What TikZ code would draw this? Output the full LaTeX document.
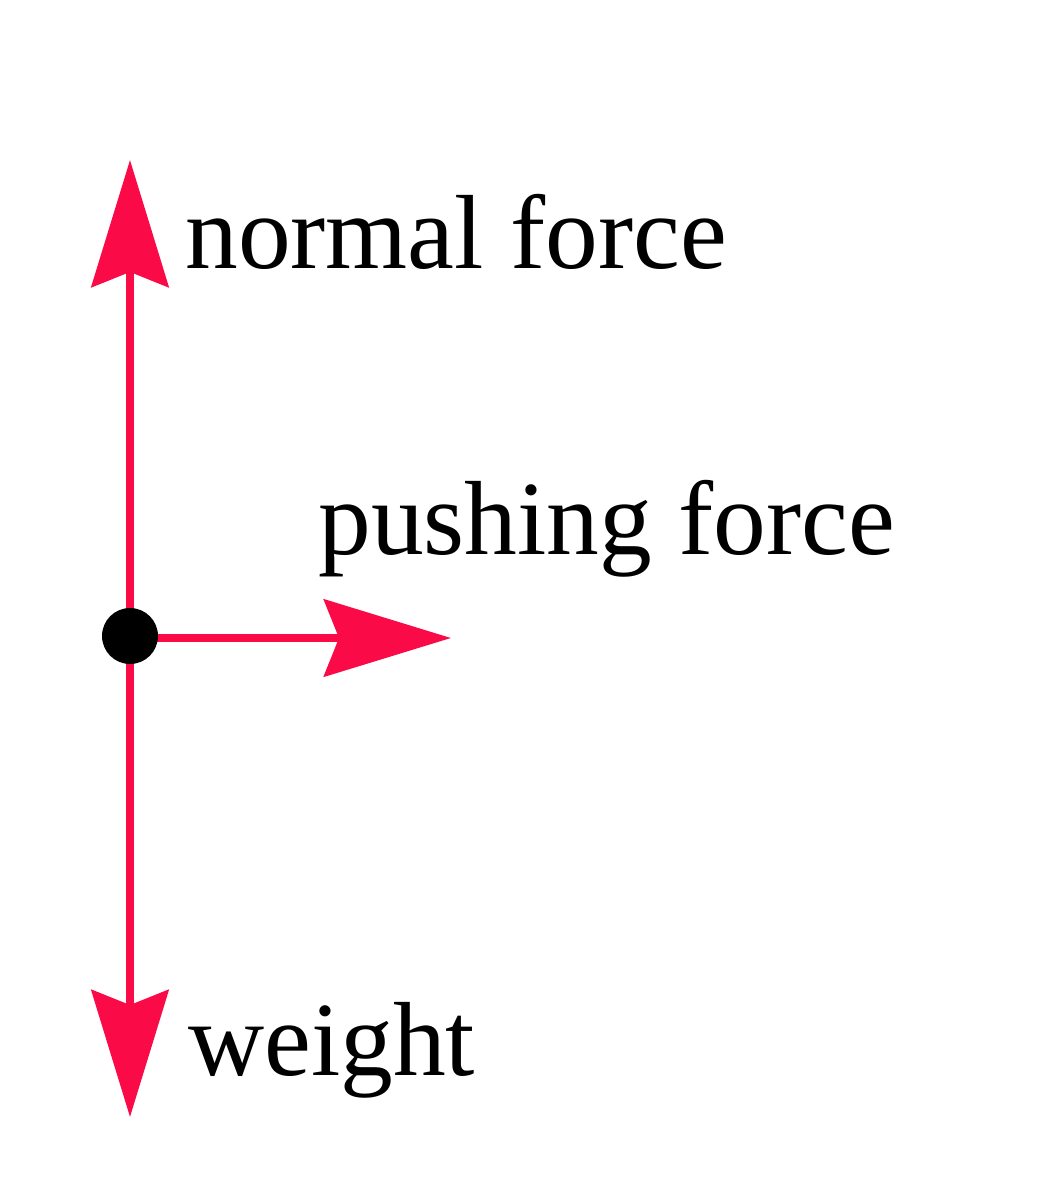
\documentclass[tikz,border=0pt]{standalone}
\usepackage{fontspec}
\setmainfont{Liberation Serif}
\usetikzlibrary{arrows.meta}
\definecolor{forcered}{RGB}{250,10,70}
\begin{document}
\begin{tikzpicture}[x=0.02cm,y=-0.02cm,
  force/.style={draw=forcered,line width=0.16cm,
    -{Stealth[length=2.54cm,width=1.54cm,inset=0.3cm,fill=forcered]}},
  lbl/.style={anchor=base west,inner sep=0pt,font=\fontsize{60}{72}\selectfont}]
\useasboundingbox (0,0) rectangle (1040,1200);
\coordinate (top) at (130,160);
\coordinate (bot) at (130,1117);
\coordinate (right) at (451,638);
\draw[force] (130,638) -- (top);
\draw[force] (130,638) -- (bot);
\draw[force] (130,638) -- (right);
\node[circle,fill=black,inner sep=0pt,minimum size=1.12cm] (dot) at (130,636) {};
\node[lbl] (normal) at (185,268) {normal force};
\node[lbl] (push) at (318,554) {pushing force};
\node[lbl] (weight) at (188,1075) {weight};
\end{tikzpicture}
\end{document}
